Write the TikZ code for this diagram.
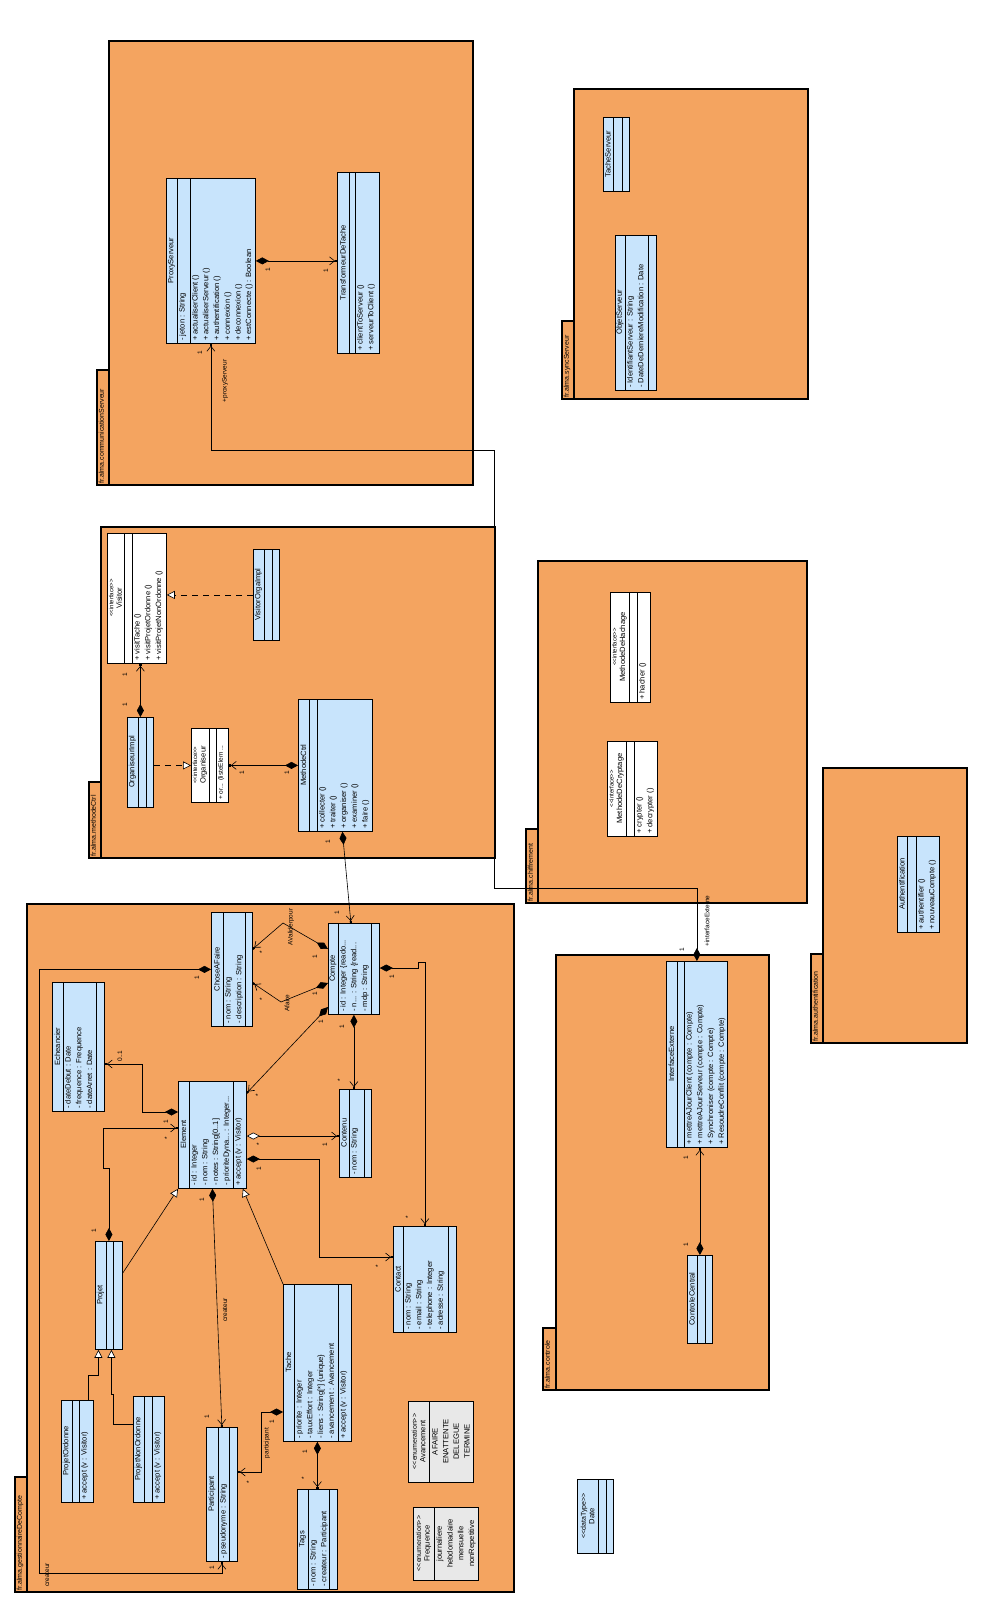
\documentclass[tikz,border=0pt]{standalone}
\usepackage{fontspec}
\setmainfont{Liberation Sans}
\usetikzlibrary{arrows.meta,calc}
\definecolor{pkgorange}{RGB}{244,164,96}
\definecolor{clsblue}{RGB}{200,228,252}
\definecolor{enumgray}{RGB}{232,232,232}
\newcommand\memfont{\fontsize{7.6}{10.7}\selectfont}
\newcommand\titlefont{\fontsize{7.6}{8.5}\selectfont}
\newcommand\stfont{\fontsize{6}{7.5}\selectfont}
\newcommand\enfont{\fontsize{7}{8.5}\selectfont}
\newcommand\pkgfont{\fontsize{7}{8}\selectfont}
\newcommand\multfont{\fontsize{6.5}{7}\selectfont}
\newcommand\stereo[1]{<{}<#1>{}>}
\tikzset{
  pkgbox/.style={draw, fill=pkgorange, line width=1.3pt, inner sep=0pt, outer sep=0pt},
  pkglabel/.style={rotate=90, anchor=north west, font=\pkgfont, inner sep=1.5pt},
  clsbox/.style={draw, fill=clsblue, line width=0.8pt, inner sep=0pt},
  ifbox/.style={draw, fill=white, line width=0.8pt, inner sep=0pt},
  enumbox/.style={draw, fill=enumgray, line width=0.8pt, inner sep=0pt},
  clsline/.style={line width=0.8pt},
  ctitle/.style={rotate=90, font=\titlefont, align=center, inner sep=0pt},
  ctext/.style={rotate=90, anchor=north west, align=left, font=\memfont, inner sep=2pt},
  etext/.style={rotate=90, align=center, font=\memfont, inner sep=0pt},
  mult/.style={rotate=90, font=\multfont, inner sep=0.5pt},
  conn/.style={line width=0.6pt},
  navtip/.tip={Straight Barb[length=5pt,width=8pt] Square[length=2pt,width=2pt]},
  comp/.style={conn, {Diamond[length=13pt,width=7pt]}-{navtip}},
  aggr/.style={conn, {Diamond[open,fill=white,length=13pt,width=7pt]}-{navtip}},
  gen/.style={conn, -{Triangle[open,fill=white,length=8pt,width=8pt]}},
  real/.style={conn, dash pattern=on 6pt off 5pt, -{Triangle[open,fill=white,length=8pt,width=8pt]}},
}
\newcommand\umlpkg[8]{%
  \node[pkgbox, minimum width={(#4-#2)*1pt}, minimum height={(#5-#3)*1pt}, anchor=north west] (#1) at (#2,#3) {};
  \node[pkgbox, minimum width={(#2-#6)*1pt}, minimum height={(#5-#7)*1pt}, anchor=north west] (#1-tab) at (#6,#7) {};
  \node[pkglabel] (#1-label) at (#6,#5) {#8};
}
\newcommand\umlcls[9]{%
  \node[#8, minimum width={(#4-#2)*1pt}, minimum height={(#5-#3)*1pt}, anchor=north west] (#1) at (#2,#3) {};
  \draw[clsline] (#6,#3) -- (#6,#5) (#7,#3) -- (#7,#5);
  \node[ctitle] (#1-name) at ({(#2+#6)/2},{(#3+#5)/2}) {#9};
}
\newcommand\umltxt[4]{\node[ctext] (#1) at (#2,#3) {#4};}
\begin{document}
\begin{tikzpicture}[x=1pt,y=-1pt]
\useasboundingbox (0,0) rectangle (990,1603);
\fill[white] (0,0) rectangle (990,1603);
% packages
\umlpkg{pcom}{109}{41}{473}{485}{97}{370}{fr.alma.communicationServeur}
\umlpkg{psync}{574}{89}{808}{399}{562}{321}{fr.alma.syncServeur}
\umlpkg{pmeth}{101}{527}{495}{858}{89}{782}{fr.alma.methodeCtrl}
\umlpkg{pchif}{538}{561}{807}{903}{526}{829}{fr.alma.chiffrement}
\umlpkg{pauth}{823}{768}{967}{1043}{811}{954}{fr.alma.authentification}
\umlpkg{pctrl}{556}{955}{769}{1390}{543}{1328}{fr.alma.controle}
\umlpkg{pgest}{27}{904}{514}{1592}{15}{1477}{fr.alma.gestionnaireDeCompte}
% communicationServeur
\umlcls{proxy}{166}{178}{255}{343}{177}{190}{clsbox}{ProxyServeur}
\umltxt{proxy-attr}{177}{343}{- jeton : String}
\umltxt{proxy-ops}{190}{343}{+ actualiserClient ()\\+ actualiserServeur ()\\+ authentification ()\\+ connexion ()\\+ deconnexion ()\\+ estConnecte () : Boolean}
\umlcls{tdt}{337}{172}{379}{353}{349}{355}{clsbox}{TransformeurDeTache}
\umltxt{tdt-ops}{355}{353}{+ clientToServeur ()\\+ serveurToClient ()}
% syncServeur
\umlcls{tacheserv}{603}{117}{629}{191}{613}{622}{clsbox}{TacheServeur}
\umlcls{objserv}{615}{235}{656}{390}{625}{648}{clsbox}{ObjetServeur}
\umltxt{objserv-attr}{625}{390}{- IdentifiantServeur : String\\- DateDeDerniereModification : Date}
% methodeCtrl
\umlcls{visitor}{107}{533}{166}{663}{124}{132}{ifbox}{\stfont \stereo{interface}\\Visitor}
\umltxt{visitor-ops}{132}{663}{+ visitTache ()\\+ visitProjetOrdonne ()\\+ visitProjetNonOrdonne ()}
\umlcls{visimpl}{253}{549}{279}{640}{264}{272}{clsbox}{VisitorOrgaImpl}
\umlcls{orgimpl}{127}{717}{153}{807}{138}{146}{clsbox}{OrganiseurImpl}
\umlcls{organiseur}{191}{728}{228}{802}{209}{216}{ifbox}{\stfont \stereo{interface}\\Organiseur}
\node[ctext, font=\fontsize{6.5}{8}\selectfont] (organiseur-ops) at (216,802) {+ or... (listeElem ...};
\umlcls{methctrl}{298}{699}{372}{831}{309}{317}{clsbox}{MethodeCtrl}
\umltxt{methctrl-ops}{317}{831}{+ collecter ()\\+ traiter ()\\+ organiser ()\\+ examiner ()\\+ faire ()}
% chiffrement
\umlcls{hachage}{610}{592}{650}{702}{629}{637}{ifbox}{\stfont \stereo{interface}\\MethodeDeHachage}
\umltxt{hachage-ops}{637}{702}{+ hacher ()}
\umlcls{cryptage}{607}{741}{657}{836}{626}{634}{ifbox}{\stfont \stereo{interface}\\MethodeDeCryptage}
\umltxt{cryptage-ops}{634}{836}{+ crypter ()\\+ decrypter ()}
% authentification
\umlcls{auth}{897}{836}{939}{932}{907}{916}{clsbox}{Authentification}
\umltxt{auth-ops}{916}{932}{+ authentifier ()\\+ nouveauCompte ()}
% controle
\umlcls{iext}{666}{961}{727}{1147}{677}{684}{clsbox}{InterfaceExterne}
\umltxt{iext-ops}{684}{1147}{+ mettreAJourClient (compte : Compte)\\+ mettreAJourServeur (compte : Compte)\\+ Synchroniser (compte : Compte)\\+ ResoudreConflit (compte : Compte)}
\umlcls{ctrlc}{687}{1255}{712}{1343}{697}{705}{clsbox}{ControleCentral}
% gestionnaireDeCompte
\umlcls{compte}{328}{923}{379}{1014}{338}{371}{clsbox}{Compte}
\umltxt{compte-attr}{338}{1014}{- id : Integer \{reado...\\- n... : String \{read...\\- mdp : String}
\umlcls{chose}{211}{912}{252}{1026}{223}{245}{clsbox}{ChoseAFaire}
\umltxt{chose-attr}{223}{1026}{- nom : String\\- description : String}
\umlcls{echeancier}{52}{982}{104}{1111}{63}{96}{clsbox}{Echeancier}
\umltxt{echeancier-attr}{63}{1111}{- dateDebut : Date\\- frequence : Frequence\\- dateArret : Date}
\umlcls{element}{178}{1081}{246}{1188}{189}{233}{clsbox}{Element}
\umltxt{element-attr}{189}{1188}{- id : Integer\\- nom : String\\- notes : String[0..1]\\- prioriteDyna... : Integer...}
\umltxt{element-ops}{233}{1188}{+ accept (v : Visitor)}
\umlcls{contenu}{339}{1089}{371}{1177}{349}{364}{clsbox}{Contenu}
\umltxt{contenu-attr}{349}{1177}{- nom : String}
\umlcls{contact}{393}{1226}{456}{1332}{403}{448}{clsbox}{Contact}
\umltxt{contact-attr}{403}{1332}{- nom : String\\- email : String\\- telephone : Integer\\- adresse : String}
\umlcls{projet}{95}{1241}{122}{1349}{106}{113}{clsbox}{Projet}
\umlcls{projord}{61}{1400}{93}{1502}{72}{79}{clsbox}{ProjetOrdonne}
\umltxt{projord-ops}{79}{1502}{+ accept (v : Visitor)}
\umlcls{projnonord}{133}{1396}{164}{1502}{144}{152}{clsbox}{ProjetNonOrdonne}
\umltxt{projnonord-ops}{152}{1502}{+ accept (v : Visitor)}
\umlcls{participant}{206}{1427}{237}{1561}{218}{229}{clsbox}{Participant}
\umltxt{participant-attr}{218}{1561}{- pseudonyme : String}
\umlcls{tache}{283}{1284}{351}{1441}{294}{338}{clsbox}{Tache}
\umltxt{tache-attr}{294}{1441}{- priorite : Integer\\- tauxEffort : Integer\\- liens : String[*] \{unique\}\\- avancement : Avancement}
\umltxt{tache-ops}{338}{1441}{+ accept (v : Visitor)}
\umlcls{tags}{297}{1489}{337}{1589}{308}{329}{clsbox}{Tags}
\umltxt{tags-attr}{308}{1589}{- nom : String\\- createur : Participant}
\umlcls{avancement}{408}{1401}{473}{1482}{429}{429}{enumbox}{\enfont \stereo{enumeration}\\Avancement}
\node[etext] (avancement-vals) at (451,1441.5) {AFAIRE\\ENATTENTE\\DELEGUE\\TERMINE};
\umlcls{frequence}{413}{1507}{478}{1580}{434}{434}{enumbox}{\enfont \stereo{enumeration}\\Frequence}
\node[etext] (frequence-vals) at (456,1543.5) {journaliere\\hebdomadaire\\mensuelle\\nonRepetitive};
\umlcls{date}{577}{1479}{613}{1553}{598}{606}{clsbox}{\enfont \stereo{dataType}\\Date}
% connectors
\draw[comp] (proxy.east) -- (proxy.east -| tdt.west);
\draw[comp] (iext.north) |- (494,888) |- (proxy.south |- 0,450) -- (proxy.south);
\draw[real] (visimpl.west) -- (visimpl.west -| visitor.east);
\draw[comp] (orgimpl.north) -- (orgimpl.north |- visitor.south);
\draw[real] (organiseur.west -| orgimpl.east) -- (organiseur.west);
\draw[comp] (organiseur.east -| methctrl.west) -- (organiseur.east);
\draw[comp] ([xshift=7pt]methctrl.south) -- ([xshift=-3pt]compte.north);
\draw[comp] (ctrlc.north) -- (ctrlc.north |- iext.south);
\draw[comp] ([yshift=-26pt]compte.north west) -- (283,923) -- ([yshift=-37pt]chose.north east);
\draw[comp] ([yshift=-60pt]compte.north west) -- (281,1002) -- ([yshift=-71pt]chose.north east);
\draw[comp] ([yshift=-84pt]compte.north west) -- ([yshift=-12pt]element.north east);
\draw[comp] (compte.south) -- (compte.south |- contenu.north);
\draw[comp] ([yshift=-45pt]compte.north east) -| (418,962) -| (contact.north);
\draw[comp] (chose.west) -| (39,1573) -| (participant.south);
\draw[comp] ([yshift=-31pt]element.north west) -| (142,1064) -- ([yshift=-82pt]echeancier.north east);
\draw[comp] (projet.north) |- (103,1168) |- ([yshift=-47pt]element.north west);
\draw[aggr] ([yshift=-55pt]element.north east) -- ([yshift=-47pt]contenu.north west);
\draw[comp] ([yshift=-78pt]element.north east) -| (319,1257) -- ([yshift=-31pt]contact.north west);
\draw[comp] (element.south) -- (participant.north);
\draw[gen] ([yshift=-32pt]projet.north east) -- (element.south west);
\draw[gen] (tache.north west) -- ([xshift=-4pt]element.south east);
\draw[gen] ([xshift=11pt]projord.north) |- ([xshift=-10.5pt]projet.south |- 0,1375) -- ([xshift=-10.5pt]projet.south);
\draw[gen] ([yshift=-28pt]projnonord.north west) -| (113,1394) -| ([xshift=2.5pt]projet.south);
\draw[comp] ([yshift=-128pt]tache.north west) -| (261,1472) -- ([yshift=-45pt]participant.north east);
\draw[comp] (tache.south) -- (tache.south |- tags.north);
% labels
\node[mult] (l1) at (268,270) {1};
\node[mult] (l2) at (326,271) {1};
\node[mult] (l3) at (200,353) {1};
\node[mult] (l4) at (225,381) {+proxyServeur};
\node[mult] (l5) at (707,921) {+interfaceExterne};
\node[mult] (l6) at (682,950) {1};
\node[mult] (l7) at (125,675) {1};
\node[mult] (l8) at (125,705) {1};
\node[mult] (l9) at (287,773) {1};
\node[mult] (l10) at (242,773) {1};
\node[mult] (l11) at (328,842) {1};
\node[mult] (l12) at (337,913) {1};
\node[mult] (l13) at (686,1245) {1};
\node[mult] (l14) at (686,1158) {1};
\node[mult] (l15) at (291,927) {AValiderpour};
\node[mult] (l16) at (287,1003) {Afaire};
\node[mult] (l17) at (315,957) {1};
\node[mult] (l18) at (315,994) {1};
\node[mult] (l19) at (262,952) {*};
\node[mult] (l20) at (262,999) {*};
\node[mult] (l21) at (321,1022) {1};
\node[mult] (l22) at (258,1095) {*};
\node[mult] (l23) at (342,1027) {1};
\node[mult] (l24) at (340,1080) {*};
\node[mult] (l25) at (392,977) {1};
\node[mult] (l26) at (408,1217) {*};
\node[mult] (l27) at (197,978) {1};
\node[mult] (l28) at (212,1568) {1};
\node[mult] (l29) at (47,1575) {createur};
\node[mult] (l30) at (120,1056) {0..1};
\node[mult] (l31) at (94,1231) {1};
\node[mult] (l32) at (166,1122) {1};
\node[mult] (l33) at (167,1138) {*};
\node[mult] (l34) at (259,1144) {*};
\node[mult] (l35) at (325,1145) {1};
\node[mult] (l36) at (259,1169) {1};
\node[mult] (l37) at (378,1266) {*};
\node[mult] (l38) at (225,1310) {createur};
\node[mult] (l39) at (202,1200) {1};
\node[mult] (l40) at (207,1417) {1};
\node[mult] (l41) at (267,1443) {participant};
\node[mult] (l42) at (272,1422) {1};
\node[mult] (l43) at (249,1482) {*};
\node[mult] (l44) at (305,1452) {1};
\node[mult] (l45) at (304,1478) {*};
\end{tikzpicture}
\end{document}
